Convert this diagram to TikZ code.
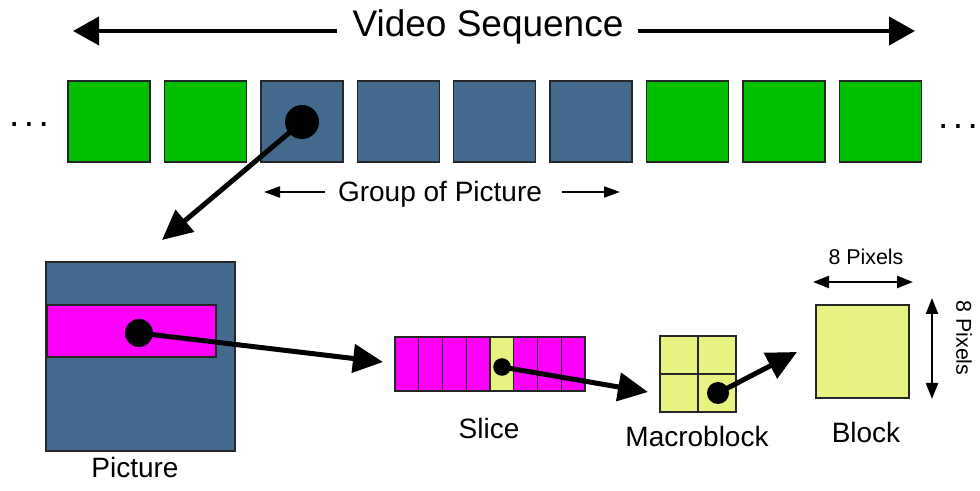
\documentclass[tikz,border=0pt]{standalone}
\usepackage{fontspec}
\setmainfont{Liberation Sans}
\usetikzlibrary{arrows.meta}
\definecolor{fgreen}{RGB}{0,190,0}
\definecolor{fblue}{RGB}{67,106,140}
\definecolor{fmag}{RGB}{255,0,255}
\definecolor{fyel}{RGB}{232,242,128}
\begin{document}
\begin{tikzpicture}[x=0.5pt,y=-0.5pt,
  box/.style={draw=black!85, line width=0.7pt, inner sep=0pt, outer sep=0pt, anchor=north west},
  frame/.style={box, minimum width=41pt, minimum height=40.5pt},
  scell/.style={box, minimum width=11.875pt, minimum height=27pt},
  mcell/.style={box, fill=fyel, minimum width=19pt, minimum height=19pt},
  dot/.style={circle, fill=black, inner sep=0pt, outer sep=0pt},
  bigarrow/.style={line width=2pt, -{Triangle[length=13pt,width=14pt]}},
  gop/.style={line width=1pt, -{Triangle[length=8pt,width=5.5pt]}},
  link/.style={line width=2.5pt, -{Triangle[length=15pt,width=14pt]}},
  dim/.style={line width=1.2pt, {Triangle[length=8pt,width=6pt]}-{Triangle[length=8pt,width=6pt]}},
  big/.style={font=\fontsize{18.5}{21}\selectfont},
  lab/.style={font=\fontsize{14}{16}\selectfont, anchor=base},
  small/.style={font=\fontsize{10.7}{12}\selectfont}
]
\useasboundingbox (0,0) rectangle (980,491);
\fill[white] (0,0) rectangle (980,491);

% title
\node[big, anchor=base] (vs) at (488,37) {Video Sequence};
\coordinate (vsl0) at (337,31);
\coordinate (vsl1) at (73,31);
\coordinate (vsr0) at (638,31);
\coordinate (vsr1) at (915,31);
\draw[bigarrow] (vsl0) -- (vsl1);
\draw[bigarrow] (vsr0) -- (vsr1);

% frames
\foreach \i/\c in {0/fgreen,1/fgreen,2/fblue,3/fblue,4/fblue,5/fblue,6/fgreen,7/fgreen,8/fgreen}
  \node[frame, fill=\c] (f\i) at ({68+96.4*\i},81) {};
\node[big, anchor=base] (dl) at (29,127) {.\hspace{2.2pt}.\hspace{2.2pt}.};
\node[big, anchor=base] (dr) at (958,129) {.\hspace{2.2pt}.\hspace{2.2pt}.};

% group of picture
\node[lab] (gop) at (440,202) {Group of Picture};
\coordinate (gl0) at (325,192);
\coordinate (gl1) at (264,192);
\coordinate (gr0) at (562,192);
\coordinate (gr1) at (620,192);
\draw[gop] (gl0) -- (gl1);
\draw[gop] (gr0) -- (gr1);

% picture
\node[box, fill=fblue, minimum width=94.5pt, minimum height=94.5pt] (pic) at (46,262) {};
\node[box, fill=fmag, minimum width=84.5pt, minimum height=26pt] (strip) at (47,305) {};
\node[lab] (piclab) at (135,478) {Picture};

% slice
\foreach \k in {0,...,7}
  \node[scell, fill=fmag] (s\k) at ({395+23.75*\k},337) {};
\node[scell, fill=fyel] (s4y) at ({395+23.75*4},337) {};
\node[lab] (slicelab) at (489,439) {Slice};

% macroblock
\node[mcell] (m00) at (660,336) {};
\node[mcell] (m01) at (698,336) {};
\node[mcell] (m10) at (660,374) {};
\node[mcell] (m11) at (698,374) {};
\node[lab] (mblab) at (697,447) {Macroblock};

% block
\node[box, fill=fyel, minimum width=46.5pt, minimum height=46.5pt] (blk) at (816,305) {};
\node[lab] (blklab) at (866,443) {Block};
\node[small, anchor=base] (px1) at (866,265) {8 Pixels};
\node[small, rotate=-90] (px2) at (964,338) {8 Pixels};
\coordinate (h0) at (813,282);
\coordinate (h1) at (913,282);
\coordinate (v0) at (932,298);
\coordinate (v1) at (932,399);
\draw[dim] (h0) -- (h1);
\draw[dim] (v0) -- (v1);

% dots and links
\node[dot, minimum size=17pt] (d1) at (302,122) {};
\node[dot, minimum size=14pt] (d2) at (139,333) {};
\node[dot, minimum size=8.8pt] (d3) at (502,367) {};
\node[dot, minimum size=11pt] (d4) at (718,393) {};
\coordinate (t1) at (162,240);
\coordinate (t2) at (383,362);
\coordinate (t3) at (648,392);
\coordinate (t4) at (797,352);
\draw[link] (d1.center) -- (t1);
\draw[link] (d2.center) -- (t2);
\draw[link] (d3.center) -- (t3);
\draw[link] (d4.center) -- (t4);
\end{tikzpicture}
\end{document}
